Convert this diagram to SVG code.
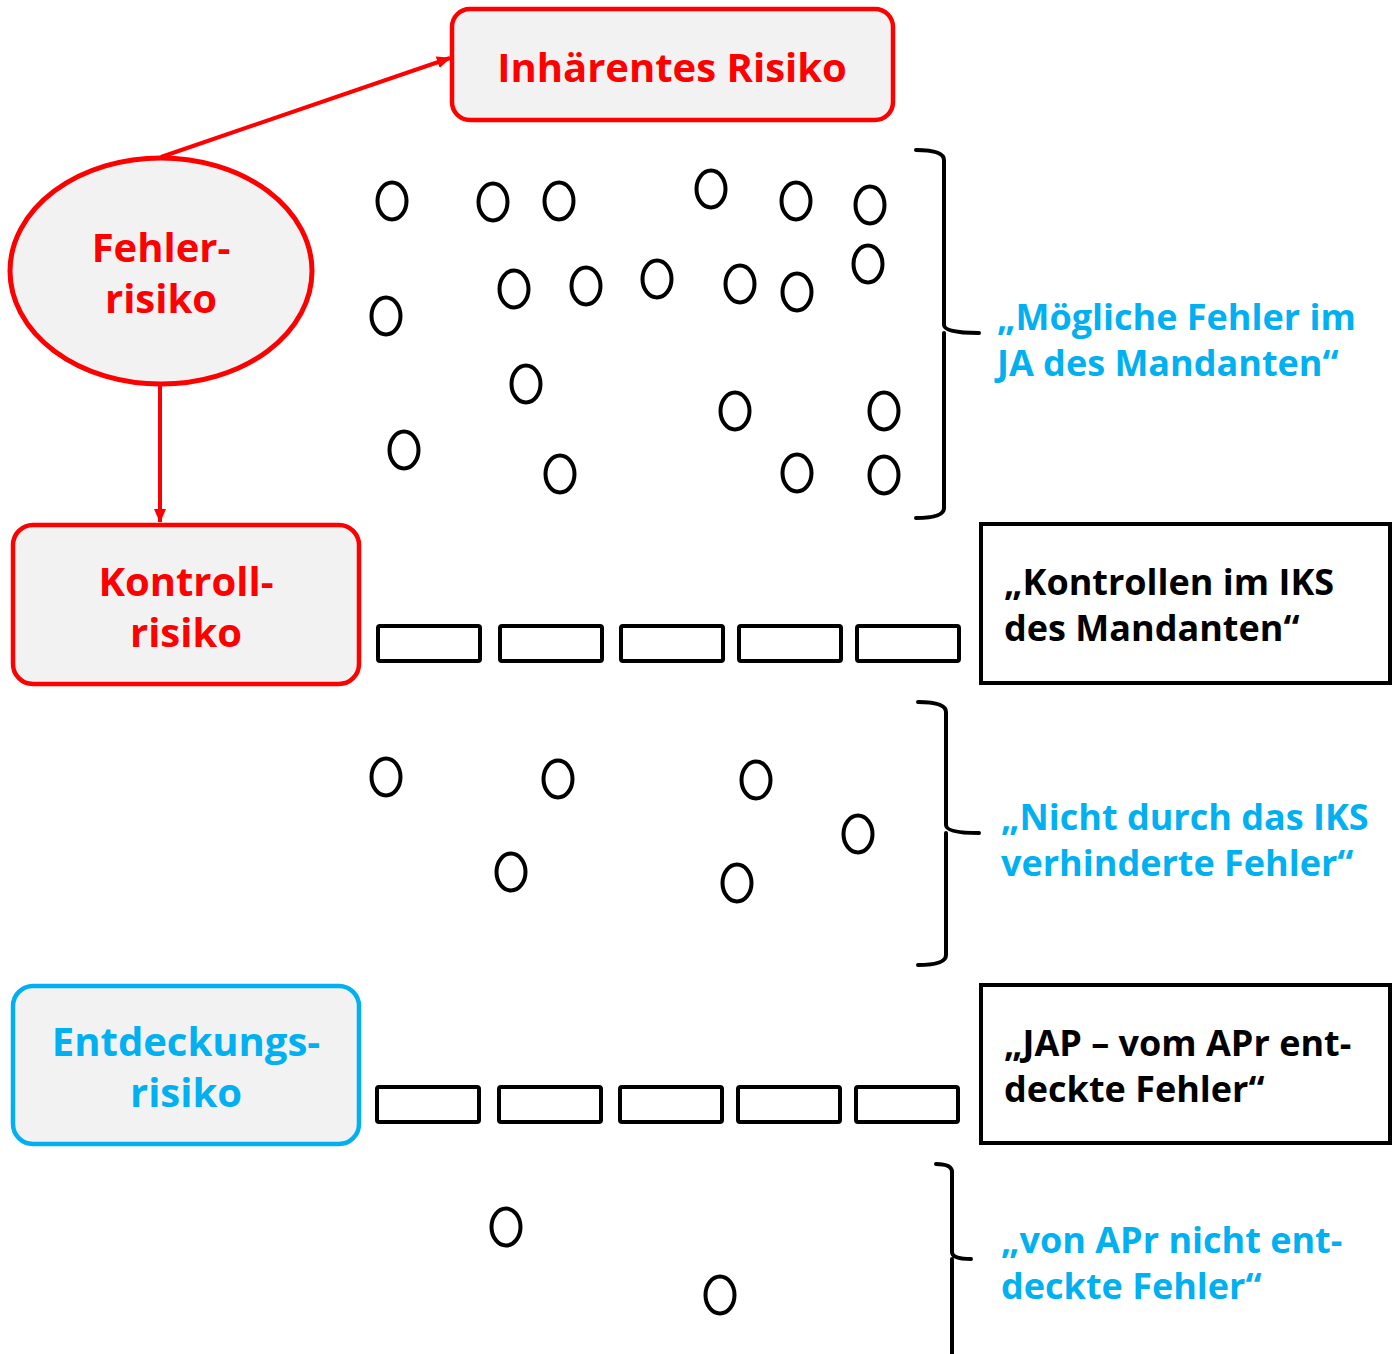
<svg xmlns="http://www.w3.org/2000/svg" width="1397" height="1354" viewBox="0 0 1397 1354">
<style>
.red{fill:#FF0000}
.blue{fill:#00B0F0}
.blk{fill:#000}
text{font-family:"Century Gothic","URW Gothic","Open Sans","Liberation Sans",sans-serif;font-weight:bold}
.big{font-size:40px}
.mid{font-size:36px}
.c{text-anchor:middle}
.o{fill:none;stroke:#000;stroke-width:4}
.rb{fill:#fff;stroke:#000;stroke-width:4}
.br{fill:none;stroke:#000;stroke-width:4;stroke-linecap:round;stroke-linejoin:round}
</style>
<defs>
<marker id="ah2" markerWidth="14" markerHeight="14" refX="13" refY="7" orient="auto" markerUnits="userSpaceOnUse" viewBox="0 0 14 14">
<path d="M0,1 L14,7 L0,13 z" fill="#FF0000"/>
</marker>
</defs>
<rect width="1397" height="1354" fill="#fff"/>

<g id="connectors">
<line x1="161" y1="157" x2="450" y2="58" stroke="#FF0000" stroke-width="4" marker-end="url(#ah2)"/>
<line x1="160" y1="386" x2="160" y2="522" stroke="#FF0000" stroke-width="4" marker-end="url(#ah2)"/>
</g>

<g id="node-inhaerentes">
<rect x="452" y="9" width="441" height="111" rx="18" fill="#F2F2F2" stroke="#FF0000" stroke-width="4.5"/>
<text class="red big c" x="672" y="82">Inhärentes Risiko</text>
</g>

<g id="node-fehlerrisiko">
<ellipse cx="161" cy="271" rx="151" ry="113" fill="#F2F2F2" stroke="#FF0000" stroke-width="5"/>
<text class="red big c" x="161" y="262">Fehler-</text>
<text class="red big c" x="161" y="313">risiko</text>
</g>

<g id="node-kontrollrisiko">
<rect x="13" y="525" width="346" height="159" rx="20" fill="#F2F2F2" stroke="#FF0000" stroke-width="4.5"/>
<text class="red big c" x="186" y="596">Kontroll-</text>
<text class="red big c" x="186" y="647">risiko</text>
</g>

<g id="node-entdeckungsrisiko">
<rect x="13" y="986" width="346" height="158" rx="20" fill="#F2F2F2" stroke="#00B0F0" stroke-width="4.5"/>
<text class="blue big c" x="186" y="1056">Entdeckungs-</text>
<text class="blue big c" x="186" y="1107">risiko</text>
</g>

<g id="errors-1">
<ellipse class="o" cx="392" cy="201" rx="14.5" ry="18.5"/>
<ellipse class="o" cx="493" cy="202" rx="14.5" ry="18.5"/>
<ellipse class="o" cx="559" cy="201" rx="14.5" ry="18.5"/>
<ellipse class="o" cx="711" cy="189" rx="14.5" ry="18.5"/>
<ellipse class="o" cx="796" cy="201" rx="14.5" ry="18.5"/>
<ellipse class="o" cx="870" cy="205" rx="14.5" ry="18.5"/>
<ellipse class="o" cx="514" cy="289" rx="14.5" ry="18.5"/>
<ellipse class="o" cx="586" cy="286" rx="14.5" ry="18.5"/>
<ellipse class="o" cx="657" cy="279" rx="14.5" ry="18.5"/>
<ellipse class="o" cx="740" cy="284" rx="14.5" ry="18.5"/>
<ellipse class="o" cx="797" cy="292" rx="14.5" ry="18.5"/>
<ellipse class="o" cx="868" cy="264" rx="14.5" ry="18.5"/>
<ellipse class="o" cx="386" cy="316" rx="14.5" ry="18.5"/>
<ellipse class="o" cx="526" cy="384" rx="14.5" ry="18.5"/>
<ellipse class="o" cx="735" cy="411" rx="14.5" ry="18.5"/>
<ellipse class="o" cx="884" cy="411" rx="14.5" ry="18.5"/>
<ellipse class="o" cx="404" cy="450" rx="14.5" ry="18.5"/>
<ellipse class="o" cx="560" cy="474" rx="14.5" ry="18.5"/>
<ellipse class="o" cx="797" cy="473" rx="14.5" ry="18.5"/>
<ellipse class="o" cx="884" cy="475" rx="14.5" ry="18.5"/>
</g>

<g id="bracket-1">
<path class="br" d="M916,150 Q944,150 944,160 L944,325 Q944,333 979,333 M944,333 Q944,341 944,350 L944,508 Q944,518 916,518"/>
<text class="blue mid" x="997" y="330">„Mögliche Fehler im</text>
<text class="blue mid" x="997" y="376">JA des Mandanten“</text>
</g>

<g id="controls-iks">
<rect class="rb" x="378" y="626" width="102" height="35" rx="2"/>
<rect class="rb" x="500" y="626" width="102" height="35" rx="2"/>
<rect class="rb" x="621" y="626" width="102" height="35" rx="2"/>
<rect class="rb" x="739" y="626" width="102" height="35" rx="2"/>
<rect class="rb" x="857" y="626" width="102" height="35" rx="2"/>
</g>

<g id="node-kontrollen">
<rect x="981" y="524" width="409" height="159" fill="#fff" stroke="#000" stroke-width="4"/>
<text class="blk mid" x="1004" y="595">„Kontrollen im IKS</text>
<text class="blk mid" x="1004" y="641">des Mandanten“</text>
</g>

<g id="errors-2">
<ellipse class="o" cx="386" cy="777" rx="14.5" ry="18.5"/>
<ellipse class="o" cx="558" cy="779" rx="14.5" ry="18.5"/>
<ellipse class="o" cx="756" cy="780" rx="14.5" ry="18.5"/>
<ellipse class="o" cx="858" cy="834" rx="14.5" ry="18.5"/>
<ellipse class="o" cx="511" cy="872" rx="14.5" ry="18.5"/>
<ellipse class="o" cx="737" cy="883" rx="14.5" ry="18.5"/>
</g>

<g id="bracket-2">
<path class="br" d="M918,702 Q946,702 946,712 L946,825 Q946,833 979,833 M946,833 Q946,841 946,850 L946,955 Q946,965 918,965"/>
<text class="blue mid" x="1001" y="830">„Nicht durch das IKS</text>
<text class="blue mid" x="1001" y="876">verhinderte Fehler“</text>
</g>

<g id="controls-jap">
<rect class="rb" x="377" y="1087" width="102" height="35" rx="2"/>
<rect class="rb" x="499" y="1087" width="102" height="35" rx="2"/>
<rect class="rb" x="620" y="1087" width="102" height="35" rx="2"/>
<rect class="rb" x="738" y="1087" width="102" height="35" rx="2"/>
<rect class="rb" x="856" y="1087" width="102" height="35" rx="2"/>
</g>

<g id="node-jap">
<rect x="981" y="985" width="409" height="158" fill="#fff" stroke="#000" stroke-width="4"/>
<text class="blk mid" x="1004" y="1056">„JAP – vom APr ent-</text>
<text class="blk mid" x="1004" y="1102">deckte Fehler“</text>
</g>

<g id="errors-3">
<ellipse class="o" cx="506" cy="1227" rx="14.5" ry="18.5"/>
<ellipse class="o" cx="720" cy="1295" rx="14.5" ry="18.5"/>
</g>

<g id="bracket-3">
<path class="br" d="M936,1164 Q952,1164 952,1172 L952,1252 Q952,1259 971,1259 M952,1259 Q952,1266 952,1274 L952,1354"/>
<text class="blue mid" x="1001" y="1253">„von APr nicht ent-</text>
<text class="blue mid" x="1001" y="1299">deckte Fehler“</text>
</g>
</svg>
